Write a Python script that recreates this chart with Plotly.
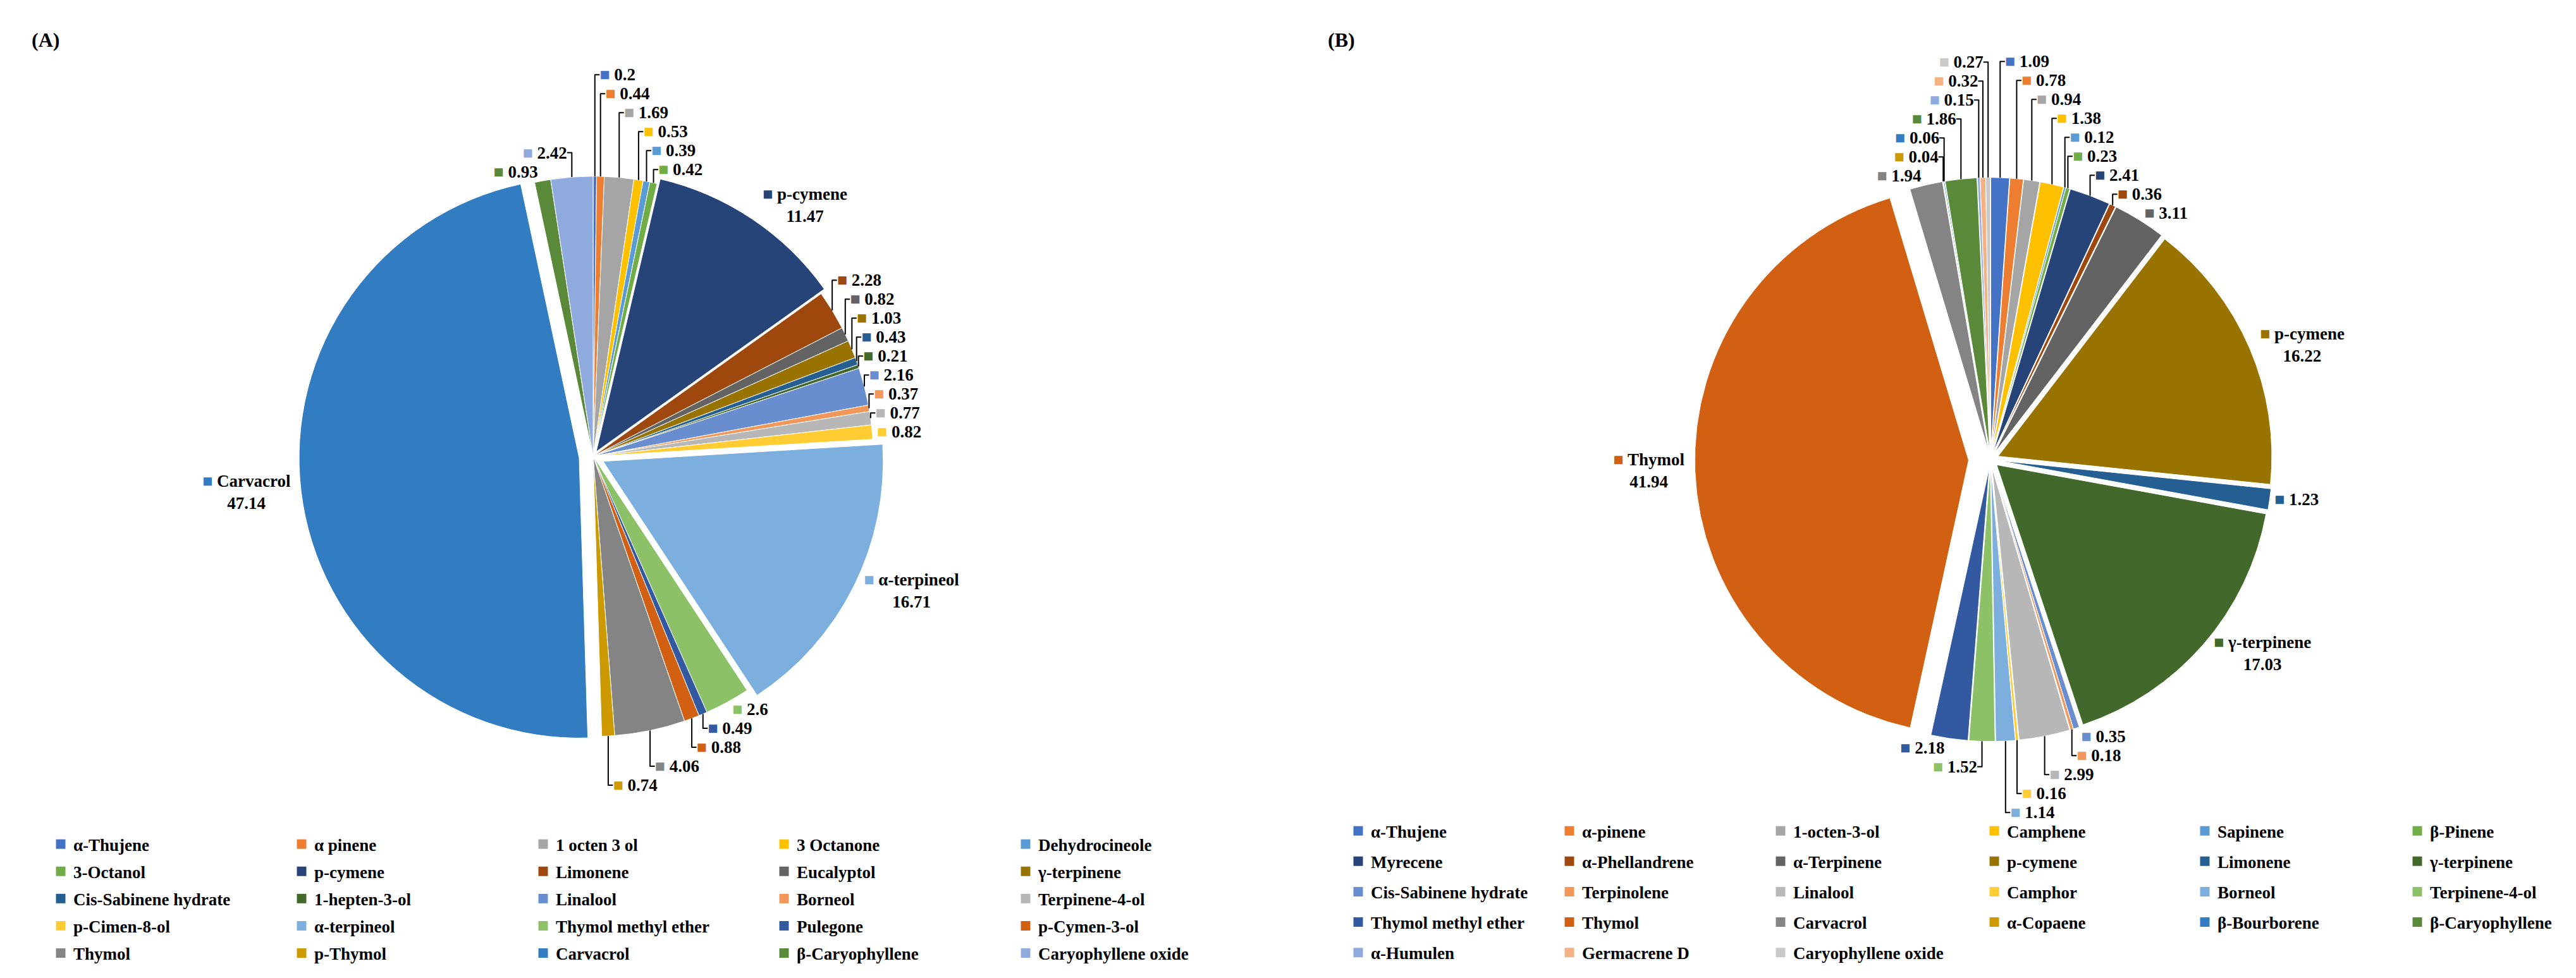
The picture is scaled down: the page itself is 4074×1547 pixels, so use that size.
import plotly.graph_objects as go

# (A) compounds, in legend order = clockwise order from 12 o'clock
compounds_a = [
    "α-Thujene", "α pinene", "1 octen 3 ol", "3 Octanone", "Dehydrocineole",
    "3-Octanol", "p-cymene", "Limonene", "Eucalyptol", "γ-terpinene",
    "Cis-Sabinene hydrate", "1-hepten-3-ol", "Linalool", "Borneol", "Terpinene-4-ol",
    "p-Cimen-8-ol", "α-terpineol", "Thymol methyl ether", "Pulegone", "p-Cymen-3-ol",
    "Thymol", "p-Thymol", "Carvacrol", "β-Caryophyllene", "Caryophyllene oxide",
]
values_a = [
    0.2, 0.44, 1.69, 0.53, 0.39,
    0.42, 11.47, 2.28, 0.82, 1.03,
    0.43, 0.21, 2.16, 0.37, 0.77,
    0.82, 16.71, 2.6, 0.49, 0.88,
    4.06, 0.74, 47.14, 0.93, 2.42,
]
named_a = ["p-cymene", "α-terpineol", "Carvacrol"]

# (B) compounds
compounds_b = [
    "α-Thujene", "α-pinene", "1-octen-3-ol", "Camphene", "Sapinene", "β-Pinene",
    "Myrecene", "α-Phellandrene", "α-Terpinene", "p-cymene", "Limonene", "γ-terpinene",
    "Cis-Sabinene hydrate", "Terpinolene", "Linalool", "Camphor", "Borneol", "Terpinene-4-ol",
    "Thymol methyl ether", "Thymol", "Carvacrol", "α-Copaene", "β-Bourborene", "β-Caryophyllene",
    "α-Humulen", "Germacrene D", "Caryophyllene oxide",
]
values_b = [
    1.09, 0.78, 0.94, 1.38, 0.12, 0.23,
    2.41, 0.36, 3.11, 16.22, 1.23, 17.03,
    0.35, 0.18, 2.99, 0.16, 1.14, 1.52,
    2.18, 41.94, 1.94, 0.04, 0.06, 1.86,
    0.15, 0.32, 0.27,
]
named_b = ["Thymol", "p-cymene", "γ-terpinene"]

# Office colour cycle (accents, then darker / lighter variants)
PALETTE = [
    "#4472C4", "#ED7D31", "#A5A5A5", "#FFC000", "#5B9BD5", "#70AD47",
    "#264478", "#9E480E", "#636363", "#997300", "#255E91", "#43682B",
    "#698ED0", "#F1975A", "#B7B7B7", "#FFCD33", "#7CAFDD", "#8CC168",
    "#335AA1", "#D26012", "#848484", "#CC9A00", "#327DC2", "#5A8A39",
    "#8FAADC", "#F4B183", "#C9C9C9", "#FFD966", "#9DC3E6", "#A9D18E",
]

W, H = 4074, 1547
SERIF = "Liberation Serif"
LABEL_FONT = dict(family=SERIF, size=27, color="black", weight="bold")


def slice_text(names, values, named):
    out = []
    for i, (n, v) in enumerate(zip(names, values)):
        sq = f"<span style='color:{PALETTE[i]}'>■</span> "
        if n in named:
            out.append(f"{sq}{n}<br>{v:g}")
        else:
            out.append(f"{sq}{v:g}")
    return out


def domain(cx, cy, half):
    return dict(x=[(cx - half) / W, (cx + half) / W],
                y=[1 - (cy + half) / H, 1 - (cy - half) / H])


pull_a = [0.05 if n == "Carvacrol" else 0.04 if n == "α-terpineol" else
          0.02 if n == "p-cymene" else 0 for n in compounds_a]
pull_b = [0.08 if n == "Thymol" else 0.03 for n in compounds_b]

fig = go.Figure()

fig.add_trace(go.Pie(
    labels=compounds_a, values=values_a, sort=False, direction="clockwise",
    rotation=0, pull=pull_a,
    marker=dict(colors=PALETTE[:len(values_a)], line=dict(color="white", width=1)),
    text=slice_text(compounds_a, values_a, named_a), textinfo="text",
    textposition="outside", textfont=LABEL_FONT, showlegend=False,
    domain=domain(930, 710, 445 * 1.05), hoverinfo="label+value",
))

fig.add_trace(go.Pie(
    labels=compounds_b, values=values_b, sort=False, direction="clockwise",
    rotation=0, pull=pull_b,
    marker=dict(colors=PALETTE[:len(values_b)], line=dict(color="white", width=1)),
    text=slice_text(compounds_b, values_b, named_b), textinfo="text",
    textposition="outside", textfont=LABEL_FONT, showlegend=False,
    domain=domain(3140, 715, 435 * 1.08), hoverinfo="label+value",
))

# legends: one vertical legend per column so the grid matches the original
legend_cols_a = [93, 474, 856, 1237, 1619]
legend_cols_b = [2145, 2479, 2813, 3151, 3484, 3820]
layout_legends = {}
lid = 0


def add_legend_block(names, cols, top, gap, prefix):
    global lid
    ids = []
    for c in cols:
        lid += 1
        key = "legend" if lid == 1 else f"legend{lid}"
        ids.append(key)
        layout_legends[key] = dict(
            x=(c - 25) / W, y=1 - top / H, xanchor="left", yanchor="top",
            orientation="v", traceorder="grouped", tracegroupgap=gap,
            bgcolor="rgba(0,0,0,0)", itemwidth=30,
            font=dict(family=SERIF, size=27, color="black", weight="bold"),
        )
    for i, n in enumerate(names):
        fig.add_trace(go.Scatter(
            x=[None], y=[None], mode="markers", name=n,
            marker=dict(symbol="square", size=15, color=PALETTE[i]),
            legend=ids[i % len(cols)], legendgroup=f"{prefix}{i}",
            showlegend=True, hoverinfo="skip",
        ))


add_legend_block(compounds_a, legend_cols_a, 1302, 5, "a")
add_legend_block(compounds_b, legend_cols_b, 1281, 10, "b")

fig.update_layout(
    width=W, height=H,
    margin=dict(l=0, r=0, t=0, b=0),
    paper_bgcolor="white", plot_bgcolor="white",
    xaxis=dict(visible=False), yaxis=dict(visible=False),
    annotations=[
        dict(text="(A)", x=40 / W, y=1 - 48 / H, xref="paper", yref="paper",
             xanchor="left", yanchor="middle", showarrow=False,
             font=dict(family=SERIF, size=32, color="black", weight="bold")),
        dict(text="(B)", x=2090 / W, y=1 - 48 / H, xref="paper", yref="paper",
             xanchor="left", yanchor="middle", showarrow=False,
             font=dict(family=SERIF, size=32, color="black", weight="bold")),
    ],
    **layout_legends,
)

fig.write_html("out.html")
